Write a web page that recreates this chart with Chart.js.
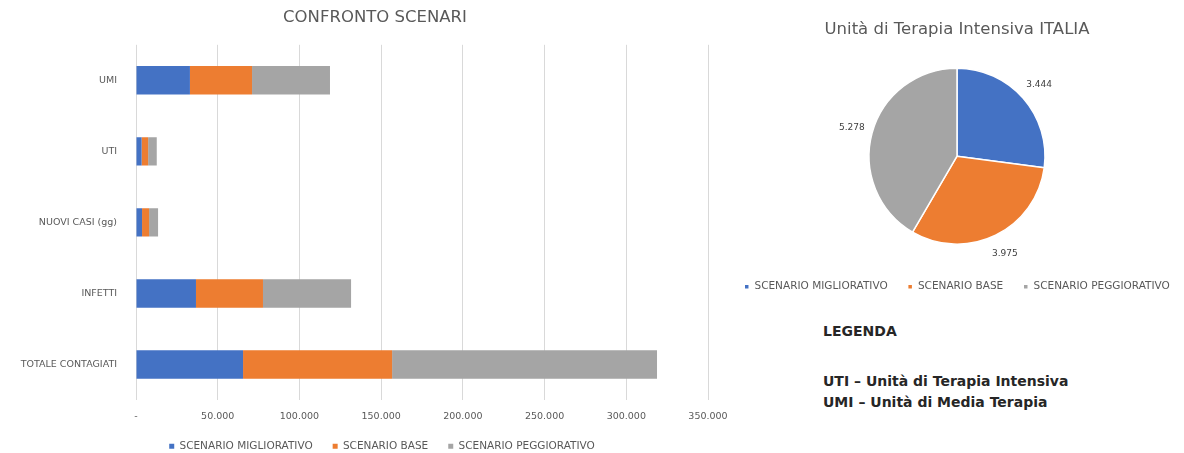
<!DOCTYPE html>
<html>
<head>
<meta charset="utf-8">
<script src="https://cdn.jsdelivr.net/npm/chart.js@4.4.1/dist/chart.umd.min.js"></script>
<style>
  body { margin: 0; background: #fff; font-family: "DejaVu Sans", sans-serif; overflow: hidden; }
  #barBox { position: absolute; left: 0; top: 0; width: 755px; height: 453px; }
  #pieBox { position: absolute; left: 715px; top: 0; width: 484px; height: 308px; }
  #note { position: absolute; left: 823px; top: 319px; color: #262626; }
  #note .head { font-size: 14px; font-weight: 700; line-height: 24px; margin-bottom: 28px; }
  #note .row { font-size: 14px; font-weight: 700; line-height: 21px; }
</style>
</head>
<body>
<div id="barBox"><canvas id="barChart"></canvas></div>
<div id="pieBox"><canvas id="pieChart"></canvas></div>
<div id="note">
  <div class="head">LEGENDA</div>
  <div class="row">UTI – Unità di Terapia Intensiva</div>
  <div class="row">UMI – Unità di Media Terapia</div>
</div>
<script>
// dati
const categorie = ['UMI', 'UTI', 'NUOVI CASI (gg)', 'INFETTI', 'TOTALE CONTAGIATI'];
const scenari = ['SCENARIO MIGLIORATIVO', 'SCENARIO BASE', 'SCENARIO PEGGIORATIVO'];
const migliorativo = [33000, 3444, 3700, 36700, 65500];
const base = [38000, 3975, 4300, 41000, 91200];
const peggiorativo = [47700, 5278, 5500, 53900, 162100];
const utiItalia = [3444, 3975, 5278];
const xTicks = [0, 50000, 100000, 150000, 200000, 250000, 300000, 350000];

const colori = ['#4472C4', '#ED7D31', '#A5A5A5'];
const grigio = '#595959';
Chart.defaults.font.family = '"DejaVu Sans", sans-serif';

function fmt(v) {
  if (v === 0) return '-';
  return String(Math.round(v)).replace(/\B(?=(\d{3})+(?!\d))/g, '.');
}

// sposta titolo e legenda come nel grafico Excel
const spostaBlocchi = {
  id: 'spostaBlocchi',
  afterLayout(chart, args, opts) {
    const t = chart.titleBlock, l = chart.legend;
    if (t && opts.titleX) { t.left += opts.titleX; t.right += opts.titleX; }
    if (l && opts.legendX) { l.left += opts.legendX; l.right += opts.legendX; }
    if (l && opts.legendY) { l.top += opts.legendY; l.bottom += opts.legendY; }
    if (l && opts.legendH) { l.height = opts.legendH; l.bottom = l.top + opts.legendH; }
  }
};

const data1 = {
  labels: categorie,
  datasets: [
    { label: scenari[0], data: migliorativo, backgroundColor: colori[0] },
    { label: scenari[1], data: base, backgroundColor: colori[1] },
    { label: scenari[2], data: peggiorativo, backgroundColor: colori[2] }
  ]
};

const config1 = {
  type: 'bar',
  data: data1,
  options: {
    indexAxis: 'y',
    responsive: true,
    maintainAspectRatio: false,
    animation: false,
    barPercentage: 0.8,
    categoryPercentage: 0.5,
    layout: { padding: { left: 0, right: 47, bottom: 0 } },
    scales: {
      x: {
        stacked: true,
        min: 0,
        max: 350000,
        afterBuildTicks: (s) => { s.ticks = xTicks.map(v => ({ value: v })); },
        afterFit: (s) => { s.height = 28; },
        grid: { color: '#d9d9d9', drawTicks: false },
        border: { display: false },
        ticks: { color: grigio, font: { size: 9.5 }, padding: 11, callback: (v) => fmt(v) }
      },
      y: {
        stacked: true,
        afterFit: (s) => { s.width = 136; },
        grid: { display: false },
        border: { display: false },
        ticks: { color: grigio, font: { size: 9.5 }, padding: 11 }
      }
    },
    plugins: {
      title: {
        display: true,
        text: 'CONFRONTO SCENARI',
        color: grigio,
        font: { size: 16.5, weight: 'normal' },
        padding: { top: 8, bottom: 17 }
      },
      legend: {
        position: 'bottom',
        maxHeight: 25,
        labels: { color: grigio, font: { size: 10.5 }, boxWidth: 5, boxHeight: 5, padding: 20 }
      },
      spostaBlocchi: { titleX: 21, legendX: 28, legendY: -7, legendH: 32 },
      tooltip: { enabled: false }
    }
  },
  plugins: [spostaBlocchi]
};

const chart1 = new Chart(document.getElementById('barChart'), config1);

// etichette dei valori fuori dalle fette
const etichettePie = {
  id: 'etichettePie',
  afterDatasetsDraw(chart) {
    const ctx = chart.ctx;
    ctx.save();
    ctx.fillStyle = '#404040';
    ctx.font = '9px "DejaVu Sans", sans-serif';
    ctx.textAlign = 'center';
    ctx.textBaseline = 'middle';
    chart.getDatasetMeta(0).data.forEach((arc, i) => {
      const p = arc.getProps(['x', 'y', 'startAngle', 'endAngle', 'outerRadius'], true);
      const a = (p.startAngle + p.endAngle) / 2;
      const r = p.outerRadius + 21;
      ctx.fillText(fmt(chart.data.datasets[0].data[i]), p.x + Math.cos(a) * r, p.y + Math.sin(a) * r);
    });
    ctx.restore();
  }
};

const config2 = {
  type: 'pie',
  data: {
    labels: scenari,
    datasets: [{ data: utiItalia, backgroundColor: colori, borderColor: '#ffffff', borderWidth: 1.5, radius: 88 }]
  },
  options: {
    responsive: true,
    maintainAspectRatio: false,
    animation: false,
    layout: { padding: { bottom: 6 } },
    plugins: {
      title: {
        display: true,
        text: 'Unità di Terapia Intensiva ITALIA',
        color: grigio,
        font: { size: 16.5, weight: 'normal' },
        padding: { top: 20, bottom: 11 }
      },
      legend: {
        position: 'bottom',
        labels: { color: grigio, font: { size: 10.5 }, boxWidth: 5, boxHeight: 5, padding: 20 }
      },
      tooltip: { enabled: false }
    }
  },
  plugins: [etichettePie]
};

const chart2 = new Chart(document.getElementById('pieChart'), config2);
</script>
</body>
</html>
